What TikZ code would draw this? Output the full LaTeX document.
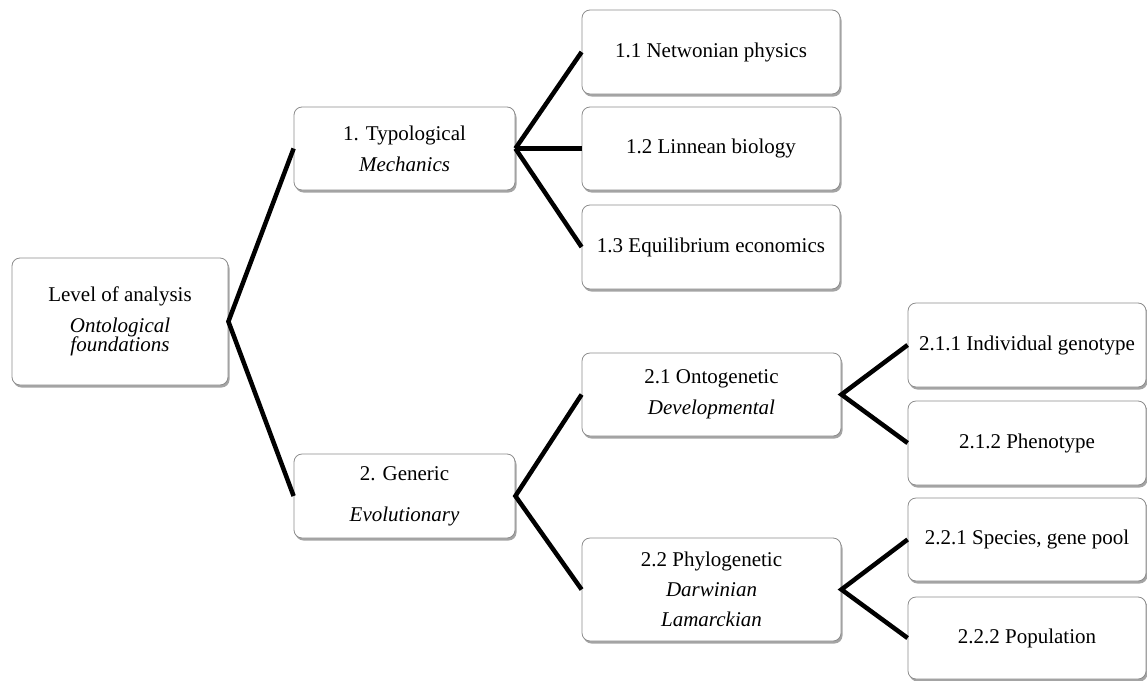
\documentclass[tikz,border=0pt]{standalone}
\usepackage{fontspec}
\setmainfont{Liberation Serif}
\usetikzlibrary{shadows}
\begin{document}
\begin{tikzpicture}[x=1pt,y=-1pt,
  box/.style={draw=black!45, line width=0.8pt, rounded corners=8pt, fill=white,
    align=center, inner sep=0pt, font=\fontsize{21}{31}\selectfont,
    drop shadow={shadow xshift=1.5pt, shadow yshift=-2.5pt, opacity=0.55, fill=black!65}},
  link/.style={line width=4.5pt, black}]
\useasboundingbox (0,0) rectangle (1147,680);
% root
\node[box, minimum width=216pt, minimum height=127pt] (root) at (120,321.5)
  {Level of analysis\\\textit{Ontological}\\[-12pt]\textit{foundations}};
% level 1
\node[box, minimum width=221pt, minimum height=83pt] (typ) at (404.5,148.5)
  {1. Typological\\\textit{Mechanics}};
\node[box, minimum width=221pt, minimum height=84pt] (gen) at (404.5,496)
  {2. Generic\\[10pt]\textit{Evolutionary}};
% level 2
\node[box, minimum width=258pt, minimum height=84pt] (n11) at (711,52) {1.1 Netwonian physics};
\node[box, minimum width=258pt, minimum height=83pt] (n12) at (711,148.5) {1.2 Linnean biology};
\node[box, minimum width=258pt, minimum height=84pt] (n13) at (711,247) {1.3 Equilibrium economics};
\node[box, minimum width=259pt, minimum height=83pt] (n21) at (711.5,394.5)
  {2.1 Ontogenetic\\\textit{Developmental}};
\node[box, minimum width=259pt, minimum height=103pt] (n22) at (711.5,589.5)
  {2.2 Phylogenetic\\[-1pt]\textit{Darwinian}\\[-1pt]\textit{Lamarckian}};
% level 3
\node[box, minimum width=238pt, minimum height=84pt] (n211) at (1027,345) {2.1.1 Individual genotype};
\node[box, minimum width=238pt, minimum height=84pt] (n212) at (1027,443) {2.1.2 Phenotype};
\node[box, minimum width=238pt, minimum height=83pt] (n221) at (1027,539.5) {2.2.1 Species, gene pool};
\node[box, minimum width=238pt, minimum height=82pt] (n222) at (1027,638) {2.2.2 Population};
% connectors
\draw[link] (typ.west) -- (root.east) -- (gen.west);
\draw[link] (typ.east) -- (n11.west);
\draw[link] (typ.east) -- (n12.west);
\draw[link] (typ.east) -- (n13.west);
\draw[link] (n21.west) -- (gen.east) -- (n22.west);
\draw[link] (n211.west) -- (n21.east) -- (n212.west);
\draw[link] (n221.west) -- (n22.east) -- (n222.west);
\end{tikzpicture}
\end{document}
